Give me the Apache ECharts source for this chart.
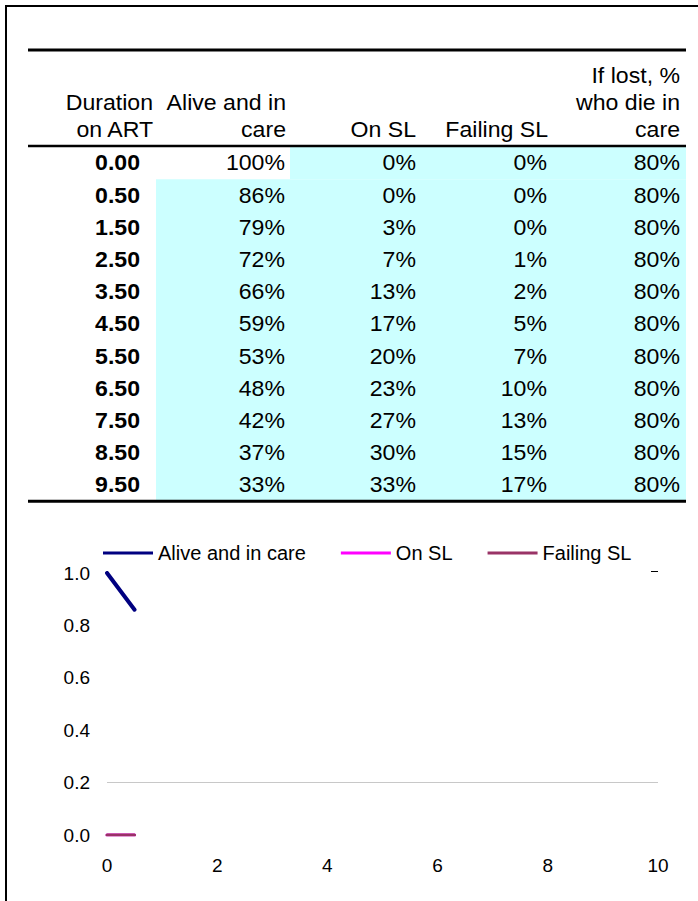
<!DOCTYPE html>
<html>
<head>
<meta charset="utf-8">
<script src="https://cdn.jsdelivr.net/npm/echarts@6/dist/echarts.min.js"></script>
<style>
  html, body { margin: 0; padding: 0; background: #fff; }
  #main { width: 698px; height: 901px; }
</style>
</head>
<body>
<div id="main"></div>
<script>
// Table data: duration on ART (years) and the share of the cohort per state
const durations = [0.00, 0.50, 1.50, 2.50, 3.50, 4.50, 5.50, 6.50, 7.50, 8.50, 9.50];
const aliveInCare = [1.00, 0.86, 0.79, 0.72, 0.66, 0.59, 0.53, 0.48, 0.42, 0.37, 0.33];
const onSL = [0.00, 0.00, 0.03, 0.07, 0.13, 0.17, 0.20, 0.23, 0.27, 0.30, 0.33];
const failingSL = [0.00, 0.00, 0.00, 0.01, 0.02, 0.05, 0.07, 0.10, 0.13, 0.15, 0.17];
const lostDieInCare = [0.80, 0.80, 0.80, 0.80, 0.80, 0.80, 0.80, 0.80, 0.80, 0.80, 0.80];

// Column headings, three lines each (blank lines keep them bottom aligned)
const colHeaders = [
    ['', 'Duration', 'on ART'],
    ['', 'Alive and in', 'care'],
    ['', '', 'On SL'],
    ['', '', 'Failing SL'],
    ['If lost, %', 'who die in', 'care']
];

// The chart only picks up the first rows of the table
const plottedRows = 2;
const seriesNames = ['Alive and in care', 'On SL', 'Failing SL'];
const seriesColors = ['#000080', '#FF00FF', '#993366'];

const FONT = '"Liberation Sans", Arial, sans-serif';

// ---- table layout (pixels) ----
const headRight = [153, 286, 416, 548, 680];
const cellRight = [140, 285, 416, 547, 680];
const headLineY = [76, 103, 129.5];
const rowTop = 147;
const rowH = 32.2;
const tableLeft = 28, tableRight = 686;
const cyanLeft = 156, cyanLeftFirst = 290;

function pct(v) { return Math.round(v * 100) + '%'; }

function cellText(str, x, y, bold) {
    return {
        type: 'text', x: x, y: y, scaleX: 1.05, z: 10,
        style: {
            text: str, fill: '#000', align: 'right', verticalAlign: 'middle',
            font: (bold ? 'bold ' : '') + '22px ' + FONT
        }
    };
}

function hLine(y, x1, x2, w) {
    return { type: 'line', z: 5, shape: { x1: x1, y1: y, x2: x2, y2: y }, style: { stroke: '#000', lineWidth: w } };
}

function buildTable() {
    const els = [];
    const tableBottom = rowTop + rowH * durations.length;

    // shaded input cells
    els.push({ type: 'rect', z: 1, shape: { x: cyanLeftFirst, y: rowTop, width: tableRight - cyanLeftFirst, height: rowH }, style: { fill: '#CCFFFF' } });
    els.push({ type: 'rect', z: 1, shape: { x: cyanLeft, y: rowTop + rowH, width: tableRight - cyanLeft, height: tableBottom - rowTop - rowH }, style: { fill: '#CCFFFF' } });

    // page border (top and left) and table rules
    els.push({ type: 'line', z: 5, shape: { x1: 5, y1: 6, x2: 698, y2: 6 }, style: { stroke: '#000', lineWidth: 2 } });
    els.push({ type: 'line', z: 5, shape: { x1: 6, y1: 5, x2: 6, y2: 901 }, style: { stroke: '#000', lineWidth: 2 } });
    els.push(hLine(50, tableLeft, tableRight, 3));
    els.push(hLine(146, tableLeft, tableRight, 2.5));
    els.push(hLine(tableBottom, tableLeft, tableRight, 3));
    // small stray dash at the right of the chart area
    els.push({ type: 'line', z: 5, shape: { x1: 651, y1: 571.5, x2: 658, y2: 571.5 }, style: { stroke: '#000', lineWidth: 1 } });

    colHeaders.forEach((lines, c) => {
        lines.forEach((t, i) => {
            if (t) els.push(cellText(t, headRight[c], headLineY[i], false));
        });
    });

    durations.forEach((d, r) => {
        const y = rowTop + rowH * (r + 0.5);
        const row = [d.toFixed(2), pct(aliveInCare[r]), pct(onSL[r]), pct(failingSL[r]), pct(lostDieInCare[r])];
        row.forEach((t, c) => els.push(cellText(t, cellRight[c], y, c === 0)));
    });
    return els;
}

function pairs(ys) {
    return durations.slice(0, plottedRows).map((d, i) => [d, ys[i]]);
}

const chart = echarts.init(document.getElementById('main'), null, { renderer: 'svg' });

const lineData = [aliveInCare, onSL, failingSL];
const series = seriesNames.map((name, i) => ({
    name: name,
    type: 'line',
    data: pairs(lineData[i]),
    showSymbol: false,
    symbol: 'none',
    itemStyle: { color: seriesColors[i] },
    lineStyle: { color: seriesColors[i], width: i === 0 ? 4 : 3, cap: 'round' },
    z: 3
}));
// the single light gridline of the original
series[0].markLine = {
    silent: true,
    symbol: 'none',
    label: { show: false },
    lineStyle: { color: '#c8c8c8', width: 1, type: 'solid' },
    data: [{ yAxis: 0.2 }],
    z: 1
};

chart.setOption({
    animation: false,
    textStyle: { fontFamily: FONT },
    graphic: buildTable(),
    legend: {
        top: 538,
        left: 98,
        icon: 'rect',
        itemWidth: 50,
        itemHeight: 3,
        itemGap: 35,
        data: seriesNames,
        textStyle: { fontSize: 20, color: '#000', fontFamily: FONT }
    },
    grid: { left: 107, right: 40, top: 573, bottom: 66 },
    xAxis: {
        type: 'value', min: 0, max: 10, interval: 2,
        axisLine: { show: false }, axisTick: { show: false }, splitLine: { show: false },
        axisLabel: { fontSize: 19, color: '#000', margin: 21, fontFamily: FONT }
    },
    yAxis: {
        type: 'value', min: 0, max: 1, interval: 0.2,
        axisLine: { show: false }, axisTick: { show: false }, splitLine: { show: false },
        axisLabel: { fontSize: 19, color: '#000', margin: 17, fontFamily: FONT, formatter: v => v.toFixed(1) }
    },
    series: series
});
</script>
</body>
</html>
